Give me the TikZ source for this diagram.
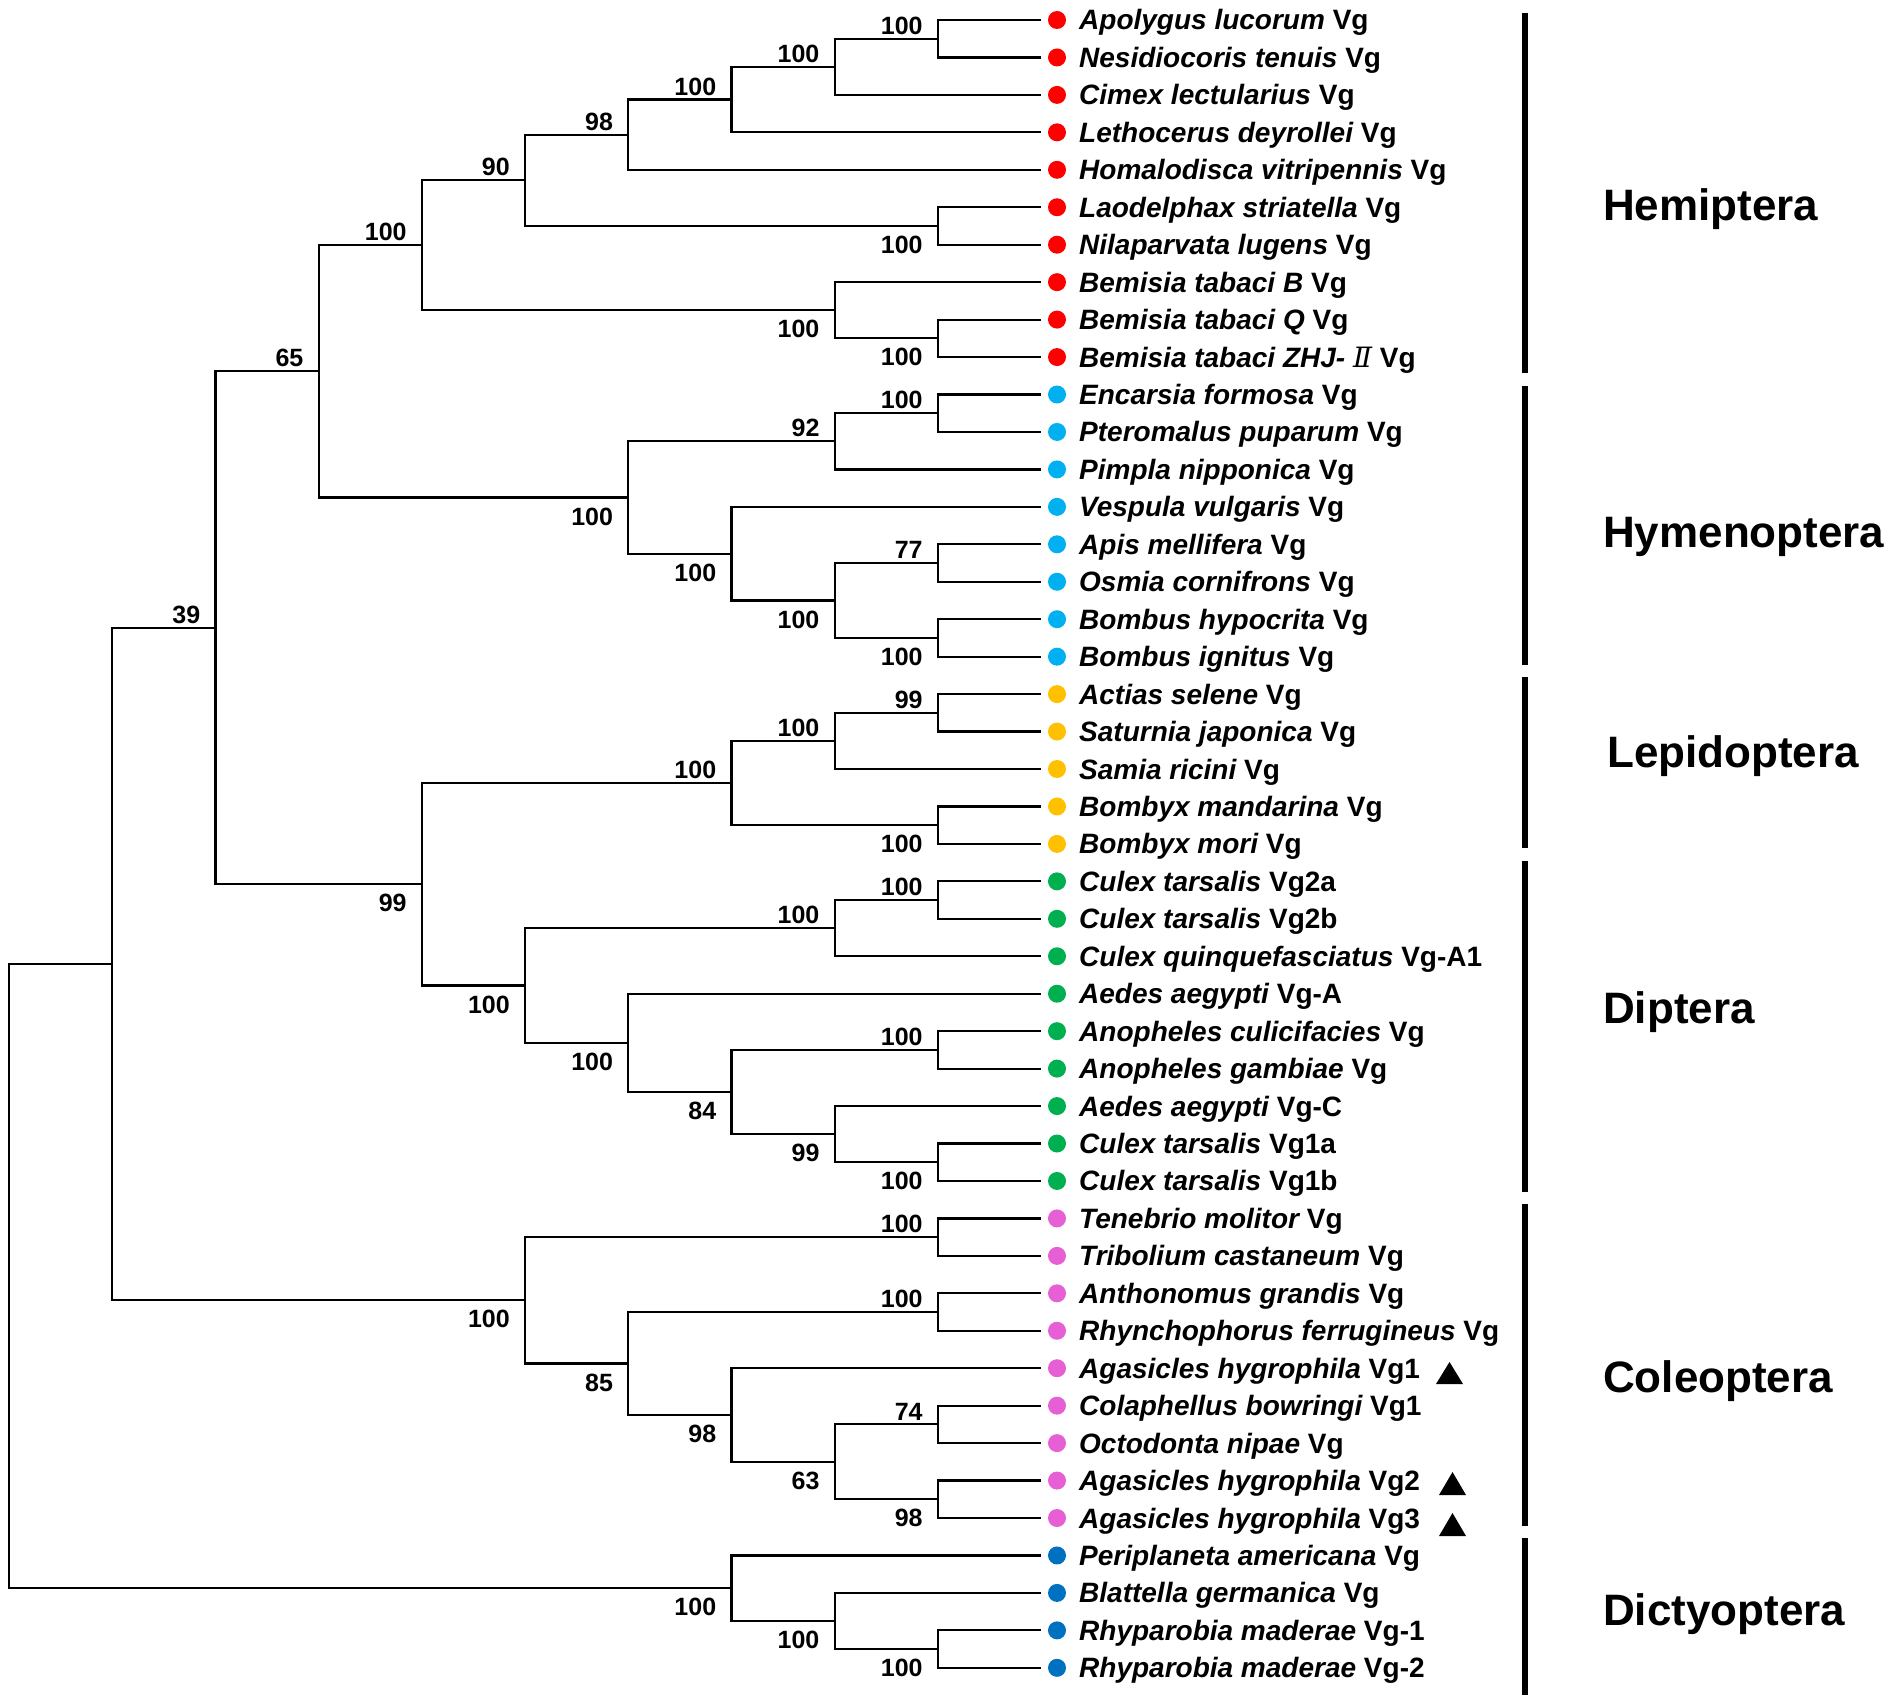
\documentclass[tikz,border=0pt]{standalone}
\usepackage{fontspec}
\usepackage{xcolor}
\usepackage{tikz}
\setmainfont{Liberation Sans}
\newfontfamily\romfont{DejaVu Serif}
\definecolor{hemi}{HTML}{FF0000}
\definecolor{hyme}{HTML}{00B0F0}
\definecolor{lepi}{HTML}{FFC000}
\definecolor{dipt}{HTML}{00B050}
\definecolor{cole}{HTML}{E65FD4}
\definecolor{dict}{HTML}{0070C0}
\newcommand\romii{{\romfont\mdseries\itshape Ⅱ}}
% one clade: name, level, upper child, lower child, support, label style
\newcommand\clade[6]{%
  \path (#3) -- (#4) coordinate[pos=.5] (#1m);
  \coordinate (#1) at (L#2 |- #1m);
  \draw[brl] (#3) -| (#1) |- (#4);
  \node[#6] (#1s) at (#1) {#5};}
\begin{document}
\begin{tikzpicture}[x=1pt,y=-1pt,
  brl/.style={line width=2.2pt},
  supa/.style={anchor=south east,inner sep=0pt,xshift=-15pt,yshift=4pt,font=\fontsize{25}{26}\selectfont\bfseries},
  supb/.style={anchor=north east,inner sep=0pt,xshift=-15pt,yshift=-10pt,font=\fontsize{25}{26}\selectfont\bfseries},
  tipdot/.style={circle,inner sep=0pt,minimum size=18pt},
  tiplab/.style={anchor=base west,inner sep=0pt,font=\fontsize{28}{30}\selectfont\bfseries},
  ordlab/.style={anchor=base west,inner sep=0pt,font=\fontsize{44}{46}\selectfont\bfseries},
  ordbar/.style={line width=6pt}]
\useasboundingbox (0,0) rectangle (1900,1707);
% levels
\foreach \k in {0,...,10}
  \coordinate (L\k) at ({9+103.2*\k},0);
% tips
\foreach \n/\s/\c [count=\i from 0] in {
  Apolygus lucorum/Vg/hemi, Nesidiocoris tenuis/Vg/hemi, Cimex lectularius/Vg/hemi,
  Lethocerus deyrollei/Vg/hemi, Homalodisca vitripennis/Vg/hemi, Laodelphax striatella/Vg/hemi,
  Nilaparvata lugens/Vg/hemi, Bemisia tabaci B/Vg/hemi, Bemisia tabaci Q/Vg/hemi,
  Bemisia tabaci ZHJ-~\romii/Vg/hemi,
  Encarsia formosa/Vg/hyme, Pteromalus puparum/Vg/hyme, Pimpla nipponica/Vg/hyme,
  Vespula vulgaris/Vg/hyme, Apis mellifera/Vg/hyme, Osmia cornifrons/Vg/hyme,
  Bombus hypocrita/Vg/hyme, Bombus ignitus/Vg/hyme,
  Actias selene/Vg/lepi, Saturnia japonica/Vg/lepi, Samia ricini/Vg/lepi,
  Bombyx mandarina/Vg/lepi, Bombyx mori/Vg/lepi,
  Culex tarsalis/Vg2a/dipt, Culex tarsalis/Vg2b/dipt, Culex quinquefasciatus/Vg-A1/dipt,
  Aedes aegypti/Vg-A/dipt, Anopheles culicifacies/Vg/dipt, Anopheles gambiae/Vg/dipt,
  Aedes aegypti/Vg-C/dipt, Culex tarsalis/Vg1a/dipt, Culex tarsalis/Vg1b/dipt,
  Tenebrio molitor/Vg/cole, Tribolium castaneum/Vg/cole, Anthonomus grandis/Vg/cole,
  Rhynchophorus ferrugineus/Vg/cole, Agasicles hygrophila/Vg1/cole,
  Colaphellus bowringi/Vg1/cole, Octodonta nipae/Vg/cole,
  Agasicles hygrophila/Vg2/cole, Agasicles hygrophila/Vg3/cole,
  Periplaneta americana/Vg/dict, Blattella germanica/Vg/dict,
  Rhyparobia maderae/Vg-1/dict, Rhyparobia maderae/Vg-2/dict}
{
  \coordinate (t\i) at (1041,{20+37.45*\i});
  \node[tipdot,fill=\c] (d\i) at (1057,{20+37.45*\i}) {};
  \node[tiplab] (lab\i) at (1079,{30+37.45*\i}) {{\itshape\n} \s};
}
% Hemiptera
\clade{a1}{9}{t0}{t1}{100}{supa}
\clade{a2}{8}{a1}{t2}{100}{supa}
\clade{a3}{7}{a2}{t3}{100}{supa}
\clade{a4}{6}{a3}{t4}{98}{supa}
\clade{a5}{9}{t5}{t6}{100}{supb}
\clade{a6}{5}{a4}{a5}{90}{supa}
\clade{a7}{9}{t8}{t9}{100}{supb}
\clade{a8}{8}{t7}{a7}{100}{supb}
\clade{a9}{4}{a6}{a8}{100}{supa}
% Hymenoptera
\clade{b1}{9}{t10}{t11}{100}{supa}
\clade{b2}{8}{b1}{t12}{92}{supa}
\clade{b3}{9}{t14}{t15}{77}{supa}
\clade{b4}{9}{t16}{t17}{100}{supb}
\clade{b5}{8}{b3}{b4}{100}{supb}
\clade{b6}{7}{t13}{b5}{100}{supb}
\clade{b7}{6}{b2}{b6}{100}{supb}
\clade{c1}{3}{a9}{b7}{65}{supa}
% Lepidoptera
\clade{d1}{9}{t18}{t19}{99}{supa}
\clade{d2}{8}{d1}{t20}{100}{supa}
\clade{d3}{9}{t21}{t22}{100}{supb}
\clade{d4}{7}{d2}{d3}{100}{supa}
% Diptera
\clade{e1}{9}{t23}{t24}{100}{supa}
\clade{e2}{8}{e1}{t25}{100}{supa}
\clade{e3}{9}{t27}{t28}{100}{supa}
\clade{e4}{9}{t30}{t31}{100}{supb}
\clade{e5}{8}{t29}{e4}{99}{supb}
\clade{e6}{7}{e3}{e5}{84}{supb}
\clade{e7}{6}{t26}{e6}{100}{supb}
\clade{e8}{5}{e2}{e7}{100}{supb}
\clade{f1}{4}{d4}{e8}{99}{supb}
\clade{g1}{2}{c1}{f1}{39}{supa}
% Coleoptera
\clade{h1}{9}{t32}{t33}{100}{supa}
\clade{h2}{9}{t34}{t35}{100}{supa}
\clade{h3}{9}{t37}{t38}{74}{supa}
\clade{h4}{9}{t39}{t40}{98}{supb}
\clade{h5}{8}{h3}{h4}{63}{supb}
\clade{h6}{7}{t36}{h5}{98}{supb}
\clade{h7}{6}{h2}{h6}{85}{supb}
\clade{h8}{5}{h1}{h7}{100}{supb}
\clade{k1}{1}{g1}{h8}{}{supa}
% Dictyoptera
\clade{m1}{9}{t43}{t44}{100}{supb}
\clade{m2}{8}{t42}{m1}{100}{supb}
\clade{m3}{7}{t41}{m2}{100}{supb}
\clade{r}{0}{k1}{m3}{}{supa}
% marks
\fill (1436,1384) -- (1463,1384) -- (1449.5,1362) -- cycle;
\fill (1439,1495) -- (1466,1495) -- (1452.5,1472) -- cycle;
\fill (1439,1536) -- (1466,1536) -- (1452.5,1513) -- cycle;
% orders
\draw[ordbar] (1524.5,13) -- (1524.5,373);
\draw[ordbar] (1524.5,386) -- (1524.5,665);
\draw[ordbar] (1524.5,677) -- (1524.5,848);
\draw[ordbar] (1524.5,861) -- (1524.5,1192);
\draw[ordbar] (1524.5,1204) -- (1524.5,1526);
\draw[ordbar] (1524.5,1538) -- (1524.5,1695);
\node[ordlab] (hem) at (1603,220) {Hemiptera};
\node[ordlab] (hym) at (1603,547) {Hymenoptera};
\node[ordlab] (lep) at (1607,767) {Lepidoptera};
\node[ordlab] (dip) at (1603,1023) {Diptera};
\node[ordlab] (col) at (1603,1392) {Coleoptera};
\node[ordlab] (dic) at (1603,1625) {Dictyoptera};
\end{tikzpicture}
\end{document}
